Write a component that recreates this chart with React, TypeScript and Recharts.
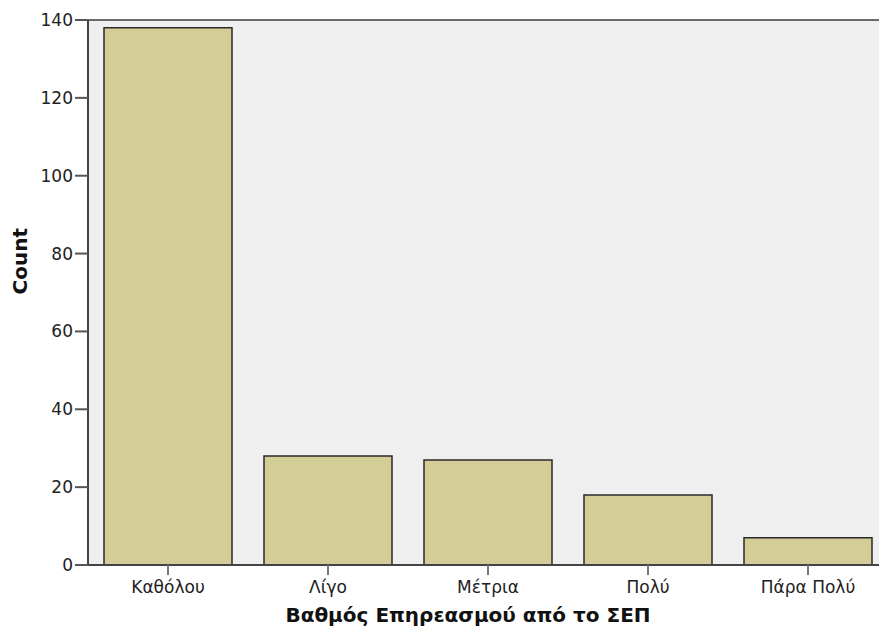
import { BarChart, Bar, XAxis, YAxis, CartesianGrid, ReferenceLine } from "recharts"

// Category labels and counts
const categories = ["Καθόλου", "Λίγο", "Μέτρια", "Πολύ", "Πάρα Πολύ"]
const counts = [138, 28, 27, 18, 7]
const yTicks = [0, 20, 40, 60, 80, 100, 120, 140]

const data = categories.map((name, i) => ({ name, count: counts[i] }))

const FONT = "'DejaVu Sans', Arial, sans-serif"

export default function App() {
  return (
    <div
      style={{
        position: "absolute",
        left: 0,
        top: 0,
        width: 879,
        height: 630,
        overflow: "hidden",
        background: "#fff",
        fontFamily: FONT,
      }}
    >
      <BarChart
        width={888}
        height={630}
        data={data}
        margin={{ top: 20, right: 0, left: 0, bottom: 0 }}
        barCategoryGap="10%"
      >
        <CartesianGrid horizontal={false} vertical={false} fill="#efefef" />
        <ReferenceLine y={140} stroke="#6b6b6b" strokeWidth={2} />
        <XAxis
          dataKey="name"
          height={65}
          stroke="#444"
          strokeWidth={2}
          tickSize={10}
          tickLine={{ stroke: "#777", strokeWidth: 2 }}
          tick={{ fill: "#222", fontSize: 17, fontFamily: FONT, dy: 4 }}
          label={{
            value: "Βαθμός Επηρεασμού από το ΣΕΠ",
            position: "insideBottom",
            offset: 8,
            dx: -20,
            fill: "#111",
            fontSize: 20,
            fontWeight: "bold",
            fontFamily: FONT,
          }}
        />
        <YAxis
          width={88}
          domain={[0, 140]}
          ticks={yTicks}
          interval={0}
          stroke="#444"
          strokeWidth={2}
          tickSize={13}
          tickLine={{ stroke: "#555", strokeWidth: 2 }}
          tick={{ fill: "#222", fontSize: 17, fontFamily: FONT }}
          label={{
            value: "Count",
            angle: -90,
            position: "insideLeft",
            offset: 20,
            dy: 2,
            fill: "#111",
            fontSize: 20,
            fontWeight: "bold",
            fontFamily: FONT,
          }}
        />
        <Bar dataKey="count" fill="#d3ce97" stroke="#2a2a2a" strokeWidth={1.5} isAnimationActive={false} />
      </BarChart>
    </div>
  )
}
